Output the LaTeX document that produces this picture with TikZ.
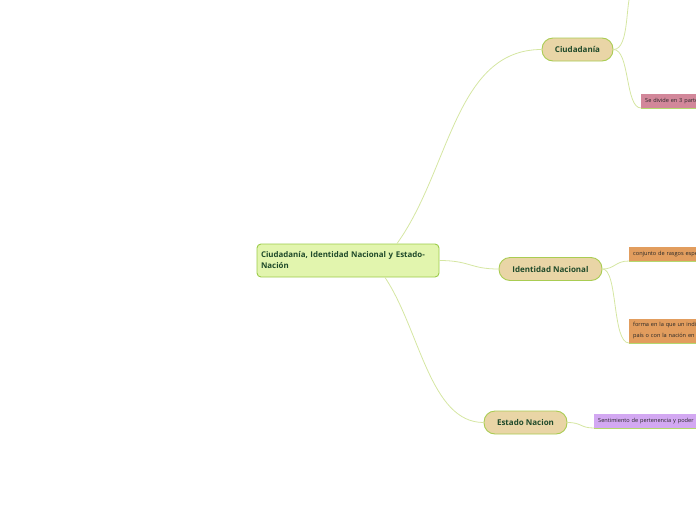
\documentclass[tikz,border=0pt]{standalone}
\usepackage{fontspec}
\setmainfont{Open Sans}
\definecolor{rootfill}{HTML}{E2F5AE}
\definecolor{rootdraw}{HTML}{9CCB4A}
\definecolor{pillfill}{HTML}{E9D5A6}
\definecolor{pilldraw}{HTML}{A9CC52}
\definecolor{txtc}{HTML}{1F4A2A}
\definecolor{linkc}{HTML}{D5E6A2}
\definecolor{pinkc}{HTML}{D2879A}
\definecolor{orangec}{HTML}{E29D5E}
\definecolor{purplec}{HTML}{D3A8F2}
\definecolor{leafline}{HTML}{B4D86E}
\tikzset{
  rootbox/.style={draw=rootdraw, line width=0.9pt, fill=rootfill, rounded corners=4pt, minimum width=182pt, minimum height=33pt, text width=174pt, align=left, inner sep=4pt, font=\fontsize{7.9}{11}\selectfont\bfseries, text=txtc},
  pill/.style={draw=pilldraw, line width=0.9pt, fill=pillfill, rounded corners=11pt, minimum height=23pt, inner sep=0pt, font=\fontsize{8}{10}\selectfont\bfseries, text=txtc},
  leaf/.style={anchor=south west, inner sep=4pt, align=left, font=\fontsize{5.6}{10.5}\selectfont, text=black!85},
  link/.style={draw=linkc, line width=0.8pt},
}
\begin{document}
\begin{tikzpicture}[x=1pt,y=-1pt]
\useasboundingbox (0,0) rectangle (696,520);
\node[rootbox] (root) at (348,260.5) {Ciudadanía, Identidad Nacional y Estado-\\Nación};
\node[pill, minimum width=71pt] (ciu) at (577.5,49.5) {Ciudadanía};
\node[pill, minimum width=103pt] (ide) at (550.5,269) {Identidad Nacional};
\node[pill, minimum width=83pt] (est) at (525.5,422.5) {Estado Nacion};
\node[leaf, fill=pinkc, text width=80pt, minimum height=13pt] (l1) at (641,108) {Se divide en 3 partes};
\node[leaf, fill=orangec, text width=100pt, minimum height=13pt] (l2) at (629,261) {conjunto de rasgos específicos};
\node[leaf, fill=orangec, text width=100pt, minimum height=23pt] (l3) at (629,343) {forma en la que un individuo\\país o con la nación en la que};
\node[leaf, fill=purplec, text width=110pt, minimum height=14pt] (l4) at (594,428) {Sentimiento de pertenencia y poder};
\coordinate (top) at (632,-10);
\draw[leafline, line width=0.8pt] (l1.south west) -- (l1.south east);
\draw[leafline, line width=0.8pt] (l2.south west) -- (l2.south east);
\draw[leafline, line width=0.8pt] (l3.south west) -- (l3.south east);
\draw[leafline, line width=0.8pt] (l4.south west) -- (l4.south east);
\draw[link] ([xshift=49pt]root.north) .. controls (450,170) and (455,49.5) .. (ciu.west);
\draw[link] (root.east) .. controls (470,260.5) and (470,269) .. (ide.west);
\draw[link] ([xshift=37pt]root.south) .. controls (420,330) and (430,422.5) .. (est.west);
\draw[link] (ciu.east) .. controls (630,49.5) and (625,0) .. (top);
\draw[link] (ciu.east) .. controls (630,49.5) and (625,108) .. (l1.south west);
\draw[link] (ide.east) .. controls (615,269) and (615,261) .. (l2.south west);
\draw[link] (ide.east) .. controls (618,269) and (612,343) .. (l3.south west);
\draw[link] (est.east) .. controls (582,422.5) and (580,428) .. (l4.south west);
\end{tikzpicture}
\end{document}
